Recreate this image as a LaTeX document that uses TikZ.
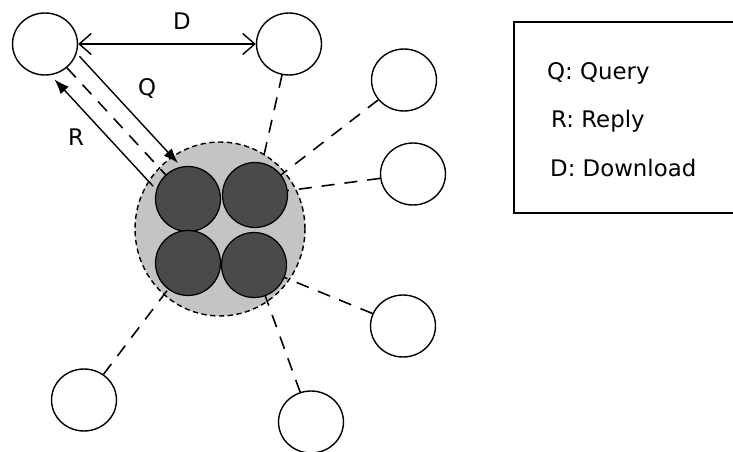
\documentclass[tikz,border=0pt]{standalone}
\usepackage{fontspec}
\setmainfont{DejaVu Sans}
\usetikzlibrary{arrows.meta,shapes.geometric}
\definecolor{cloudgray}{HTML}{C4C4C4}
\definecolor{cellgray}{HTML}{4A4A4A}

\begin{document}
\begin{tikzpicture}[x=0.02cm,y=-0.02cm]
	\tikzset{font=\fontsize{13}{15}\selectfont}
	\tikzset{peer/.style = {shape=ellipse,draw,fill=white,line width=0.8pt,
			minimum width=1.3cm,minimum height=1.24cm,inner sep=0pt}}
	\tikzset{cell/.style = {shape=circle,draw,fill=cellgray,line width=0.7pt,
			minimum size=1.3cm,inner sep=0pt}}
	\tikzset{link/.style = {line width=0.9pt,dash pattern=on 0.26cm off 0.2cm}}
	\tikzset{msg/.style = {-{Latex[length=0.3cm,width=0.22cm]},line width=0.8pt}}
	\tikzset{dl/.style = {{Straight Barb[length=0.24cm,width=0.42cm]}-{Straight Barb[length=0.24cm,width=0.42cm]},line width=0.8pt}}
	\useasboundingbox (0,0) rectangle (733,452);
    % super peer cluster
    \node[shape=ellipse,draw,densely dashed,fill=cloudgray,line width=0.8pt,
          minimum width=3.4cm,minimum height=3.48cm] (cloud) at (220,229) {};
    % peers
    \node[peer] (a) at (45,44) {};
    \node[peer] (b) at (289,44) {};
    \node[peer] (c) at (404,80) {};
    \node[peer] (d) at (413,174) {};
    \node[peer] (e) at (403,326) {};
    \node[peer] (f) at (84,400) {};
    \node[peer] (g) at (311,422) {};
    % cells
    \coordinate (s1) at (188,199);
    \coordinate (s2) at (255,195);
    \coordinate (s3) at (188,263);
    \coordinate (s4) at (254,265);
    %edges
    \draw[link] (b) -- (s2);
    \draw[link] (c) -- (s2);
    \draw[link] (d) -- (s2);
    \draw[link] (e) -- (s4);
    \draw[link] (g) -- (s4);
    \draw[link] (f) -- (s3);
    \node[cell] (s1) at (s1) {};
    \node[cell] (s2) at (s2) {};
    \node[cell] (s3) at (s3) {};
    \node[cell] (s4) at (s4) {};
    \draw[link] (a) -- (s1);
    \draw[msg,transform canvas={shift={(0.25cm,0.23cm)}}] (a) to (s1);
    \draw[msg,transform canvas={shift={(-0.25cm,-0.23cm)}}] (s1) to (a);
    \draw[dl] (a) to (b);
    % labels
    \node (q) at (147,88) {Q};
    \node (r) at (76,137) {R};
    \node (dl) at (182,21) {D};
    % legend
    \draw[line width=0.9pt] (760,22) -- (514,22) -- (514,213) -- (760,213);
    \node[anchor=west] (lq) at (541,73) {Q: Query};
    \node[anchor=west] (lr) at (545,121) {R: Reply};
    \node[anchor=west] (ld) at (544,168) {D: Download};
\end{tikzpicture}
\end{document}
